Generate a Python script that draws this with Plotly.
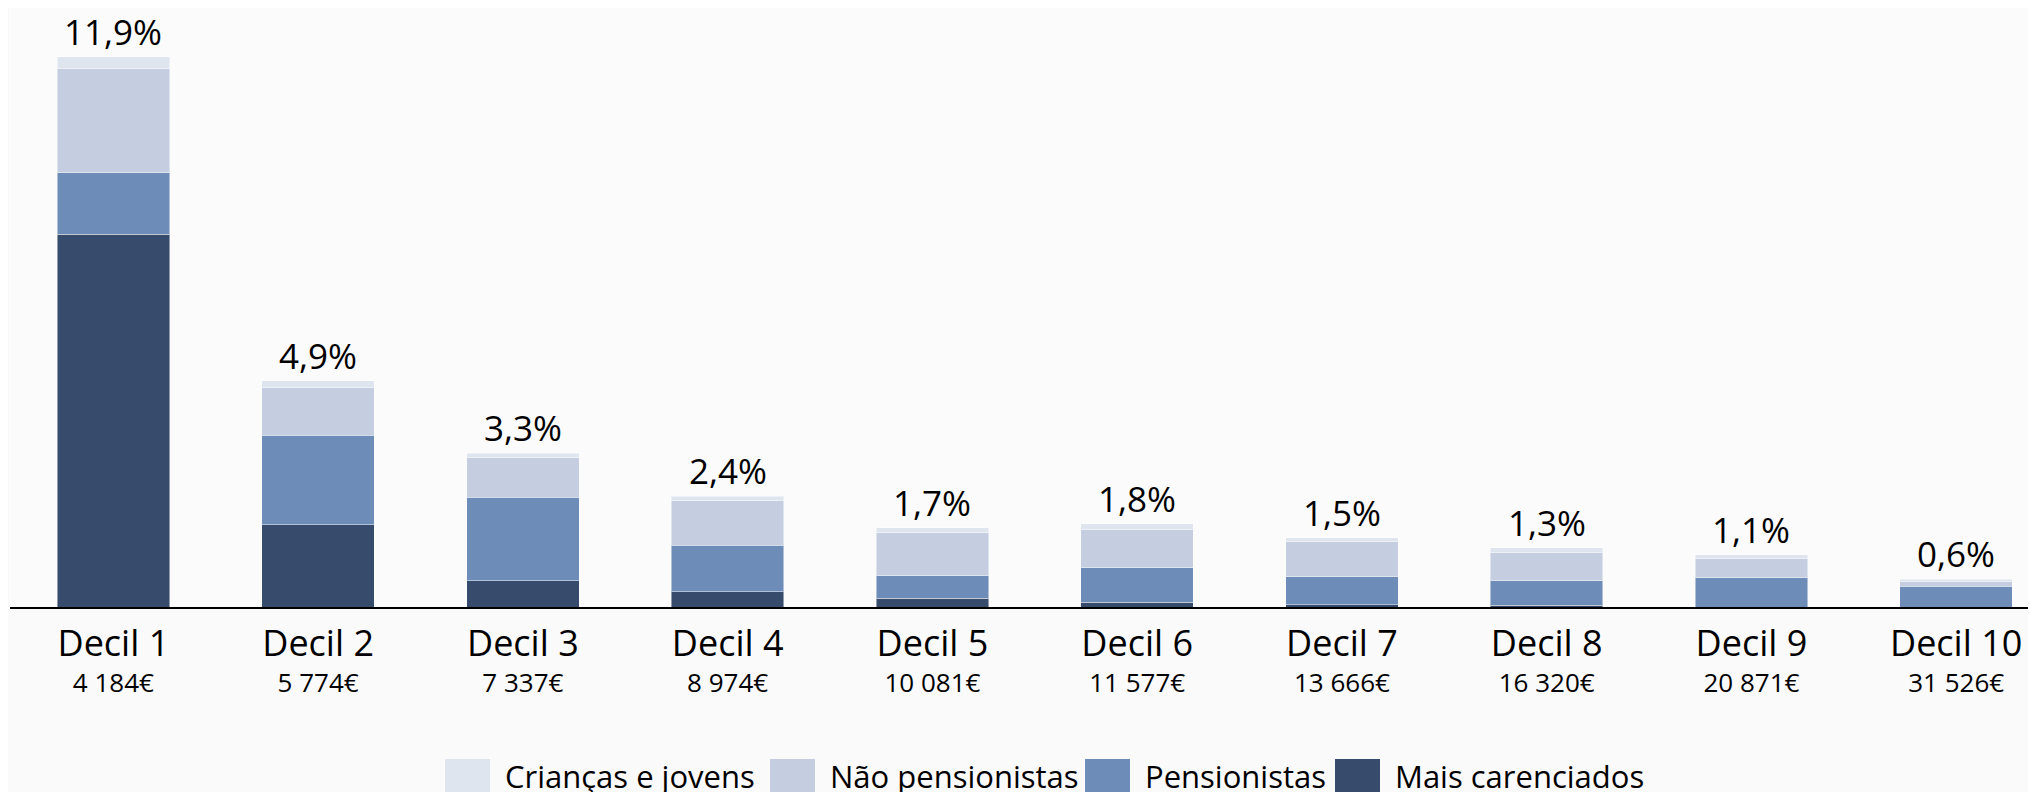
import plotly.graph_objects as go

# deciles and average income
deciles = ["Decil 1", "Decil 2", "Decil 3", "Decil 4", "Decil 5",
           "Decil 6", "Decil 7", "Decil 8", "Decil 9", "Decil 10"]
rendimento = ["4 184€", "5 774€", "7 337€", "8 974€", "10 081€",
              "11 577€", "13 666€", "16 320€", "20 871€", "31 526€"]

# stacked segments (% points), bottom to top
mais_carenciados = [8.07, 1.78, 0.57, 0.33, 0.19, 0.10, 0.05, 0.04, 0.0, 0.0]
pensionistas = [1.32, 1.94, 1.80, 1.01, 0.49, 0.75, 0.60, 0.53, 0.63, 0.45]
nao_pensionistas = [2.27, 1.03, 0.86, 0.97, 0.94, 0.82, 0.76, 0.61, 0.43, 0.10]
criancas_jovens = [0.24, 0.14, 0.10, 0.09, 0.09, 0.13, 0.09, 0.10, 0.07, 0.05]

total_labels = ["11,9%", "4,9%", "3,3%", "2,4%", "1,7%",
                "1,8%", "1,5%", "1,3%", "1,1%", "0,6%"]

FONT = "Open Sans"
W, H = 2036, 792
# the html page adds an 8px body margin, so layout pixels are given relative to the figure
BASE = 599      # x axis line, px from figure top
PX_PER_UNIT = 46.22

series = [
    ("Mais carenciados", mais_carenciados, "#374c6c"),
    ("Pensionistas", pensionistas, "#6d8cb8"),
    ("Não pensionistas", nao_pensionistas, "#c4cee0"),
    ("Crianças e jovens", criancas_jovens, "#dee5ef"),
]

fig = go.Figure()
for name, vals, color in series:
    fig.add_trace(go.Bar(
        x=deciles, y=vals, name=name,
        marker=dict(color=color, line=dict(color="rgba(255,255,255,0.45)", width=1)),
        hoverinfo="x+y+name",
    ))

totals = [sum(v) for v in zip(mais_carenciados, pensionistas, nao_pensionistas, criancas_jovens)]

annotations = []
for d, t, lab in zip(deciles, totals, total_labels):
    annotations.append(dict(
        x=d, y=t, xref="x", yref="y", text=lab, showarrow=False,
        yanchor="bottom", yshift=0, font=dict(family=FONT, size=35, color="black"),
    ))

# hand-made legend with large swatches
legend_items = [
    ("Crianças e jovens", "#dee5ef", 437),
    ("Não pensionistas", "#c4cee0", 762),
    ("Pensionistas", "#6d8cb8", 1077),
    ("Mais carenciados", "#374c6c", 1327),
]
shapes = []
for name, color, px0 in legend_items:
    shapes.append(dict(
        type="rect", xref="paper", yref="paper",
        x0=px0 / W, x1=(px0 + 45) / W, y0=1 - 800 / H, y1=1 - 751 / H,
        fillcolor=color, line=dict(width=0),
    ))
    annotations.append(dict(
        x=(px0 + 58) / W, y=1 - 745 / H, xref="paper", yref="paper",
        xanchor="left", yanchor="top", text=name, showarrow=False,
        font=dict(family=FONT, size=31, color="black"),
    ))

ticktext = [f"<span style='font-size:36px'>{d}</span><br><span style='font-size:26px'>{r}</span>"
            for d, r in zip(deciles, rendimento)]

fig.update_layout(
    width=W, height=H,
    barmode="stack", bargap=0.45,
    showlegend=False,
    paper_bgcolor="#fafafa", plot_bgcolor="#fbfbfb",
    margin=dict(l=0, r=0, t=0, b=0),
    font=dict(family=FONT, color="black"),
    annotations=annotations, shapes=shapes,
    xaxis=dict(
        domain=[3 / W, 1], range=[-0.5, 9.429],
        tickmode="array", tickvals=deciles, ticktext=ticktext,
        tickfont=dict(family=FONT, size=28, color="black"),
        ticklabelstandoff=13,
        showline=True, linecolor="black", linewidth=2,
        ticks="", showgrid=False, automargin=False,
    ),
    yaxis=dict(
        domain=[1 - BASE / H, 1], range=[0, BASE / PX_PER_UNIT],
        showticklabels=False, showgrid=False, zeroline=False,
        showline=True, linecolor="white", linewidth=1, automargin=False,
    ),
)

fig.write_html("out.html")
